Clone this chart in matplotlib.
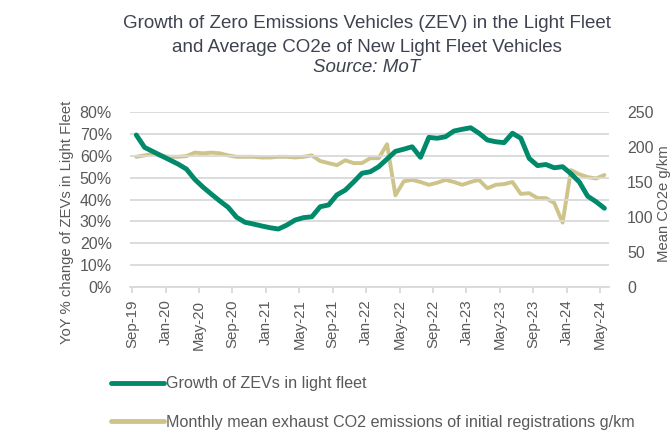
import matplotlib
matplotlib.use("Agg")
import matplotlib.pyplot as plt
from matplotlib.lines import Line2D
import numpy as np

plt.rcParams['font.family'] = ['Liberation Sans', 'DejaVu Sans']

# Monthly data Sep-19 .. May-24
months = ["Sep-19", "Oct-19", "Nov-19", "Dec-19",
          "Jan-20", "Feb-20", "Mar-20", "Apr-20", "May-20", "Jun-20", "Jul-20", "Aug-20",
          "Sep-20", "Oct-20", "Nov-20", "Dec-20",
          "Jan-21", "Feb-21", "Mar-21", "Apr-21", "May-21", "Jun-21", "Jul-21", "Aug-21",
          "Sep-21", "Oct-21", "Nov-21", "Dec-21",
          "Jan-22", "Feb-22", "Mar-22", "Apr-22", "May-22", "Jun-22", "Jul-22", "Aug-22",
          "Sep-22", "Oct-22", "Nov-22", "Dec-22",
          "Jan-23", "Feb-23", "Mar-23", "Apr-23", "May-23", "Jun-23", "Jul-23", "Aug-23",
          "Sep-23", "Oct-23", "Nov-23", "Dec-23",
          "Jan-24", "Feb-24", "Mar-24", "Apr-24", "May-24"]

zev_growth = [69.5, 63.8, 61.9, 60.0, 58.1, 56.2, 53.9, 49.2, 45.6, 42.4, 39.3, 36.4,
              31.9, 29.6, 28.8, 27.9, 27.1, 26.5, 28.3, 30.6, 31.7, 32.1, 36.7, 37.5,
              42.1, 44.3, 48.0, 52.0, 52.7, 55.0, 58.5, 62.0, 63.0, 64.1, 59.3, 68.4,
              68.0, 68.7, 71.3, 72.1, 72.8, 70.3, 67.2, 66.4, 66.0, 70.3, 68.0, 58.8,
              55.5, 56.0, 54.5, 55.0, 51.8, 48.0, 41.5, 39.0, 36.0]

co2_gkm = [186, 188, 190, 187, 186, 186, 187, 192, 191, 192, 191, 188,
           186, 186, 186, 185, 185, 186, 186, 185, 186, 188, 180, 177,
           174, 181, 177, 177, 184, 184, 204, 131, 151, 153, 150, 146,
           149, 153, 150, 146, 150, 153, 141, 146, 147, 150, 133, 134,
           127, 127, 120, 92, 167, 161, 157, 155, 160]

tick_every = 4

GREEN = "#00896B"
TAN = "#CEC48A"
GRID = "#D9D9D9"
TXT = "#595959"
TITLE = "#3F4350"

fig = plt.figure(figsize=(6.72, 4.36), dpi=100)
ax = fig.add_axes([130/672, 1 - 287/436, (609 - 130)/672, (287 - 112)/436])
ax2 = ax.twinx()

x = np.arange(len(months)) + 0.5
ax.plot(x, zev_growth, color=GREEN, lw=3.5, solid_capstyle='round', solid_joinstyle='round', zorder=3)
ax2.plot(x, co2_gkm, color=TAN, lw=2.8, solid_capstyle='round', solid_joinstyle='round', zorder=2)
ax.set_zorder(ax2.get_zorder() + 1)
ax.patch.set_visible(False)

ax.set_ylim(0, 80)
ax2.set_ylim(0, 250)
ax.set_xlim(-0.25, 57.05)
ax.set_yticks(np.arange(0, 81, 10))
ax.set_yticklabels([f"{v}%" for v in range(0, 81, 10)])
ax2.set_yticks(np.arange(0, 251, 50))

tpos = np.arange(0, len(months), tick_every)
ax.set_xticks(tpos)
ax.set_xticklabels([months[i] for i in tpos], rotation=90)

ax.grid(axis='y', color=GRID, lw=1.3)
ax.set_axisbelow(True)
for a in (ax, ax2):
    for s in a.spines.values():
        s.set_visible(False)
ax.spines['bottom'].set_visible(True)
ax.spines['bottom'].set_color(GRID)
ax.spines['bottom'].set_linewidth(1.3)

ax.tick_params(axis='y', length=0, pad=13, labelsize=11.5, labelcolor=TXT)
ax2.tick_params(axis='y', length=0, pad=13, labelsize=11.5, labelcolor=TXT)
ax.tick_params(axis='x', length=4, width=1.3, color=GRID, pad=5, labelsize=10.8, labelcolor=TXT)

ax.set_ylabel("YoY % change of ZEVs in Light Fleet", fontsize=10.7, color=TXT)
ax.yaxis.set_label_coords(-0.117, 0.371)
ax2.set_ylabel("Mean CO2e g/km", fontsize=10.7, color=TXT)
ax2.yaxis.set_label_coords(1.101, 0.477)

tx = 367/672
fig.text(tx, 1 - 24/436, "Growth of Zero Emissions Vehicles (ZEV) in the Light Fleet",
         ha='center', va='center', fontsize=13.5, color=TITLE)
fig.text(tx, 1 - 47/436, "and Average CO2e of New Light Fleet Vehicles",
         ha='center', va='center', fontsize=13.5, color=TITLE)
fig.text(tx, 1 - 68/436, "Source: MoT", ha='center', va='center', fontsize=13.5,
         color=TITLE, style='italic')

handles = [Line2D([], [], color=GREEN, lw=3.5, solid_capstyle='round'),
           Line2D([], [], color=TAN, lw=3.5, solid_capstyle='round')]
labels = ["Growth of ZEVs in light fleet",
          "Monthly mean exhaust CO2 emissions of initial registrations g/km"]
fig.legend(handles, labels, loc='center left', bbox_to_anchor=(96/672, 1 - 403/436),
           frameon=False, fontsize=11.6, handlelength=3.3, handletextpad=0.15,
           labelspacing=1.45, labelcolor=TXT)

fig.savefig("out.png", dpi=100)
